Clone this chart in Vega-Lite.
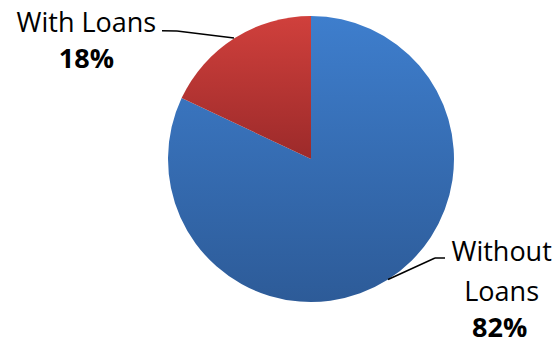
{
  "$schema": "https://vega.github.io/schema/vega-lite/v6.json",
  "width": 494,
  "height": 318,
  "autosize": {"type": "none"},
  "padding": {"left": 64, "top": 0, "right": 0, "bottom": 25},
  "background": "white",
  "config": {"view": {"stroke": null}, "text": {"font": "Open Sans", "fontSize": 27, "color": "#000000"}},
  "data": {"values": [
    {"cat": "Without Loans", "value": 82, "pct": "82%"},
    {"cat": "With Loans", "value": 18, "pct": "18%"}
  ]},
  "layer": [
    {
      "mark": {"type": "arc", "outerRadius": 143},
      "encoding": {
        "theta": {"field": "value", "type": "quantitative", "stack": true},
        "order": {"field": "value", "type": "quantitative", "sort": "descending"},
        "color": {
          "condition": {"test": "datum.cat === 'With Loans'", "value": {"gradient": "linear", "x1": 0, "y1": 0, "x2": 0, "y2": 1, "stops": [{"offset": 0, "color": "#d0403c"}, {"offset": 1, "color": "#9c2a2a"}]}},
          "value": {"gradient": "linear", "x1": 0, "y1": 0, "x2": 0, "y2": 1, "stops": [{"offset": 0, "color": "#3e7ecd"}, {"offset": 1, "color": "#2d5b98"}]}
        }
      }
    },
    {
      "mark": {"type": "text", "radius": 143, "align": "center", "baseline": "alphabetic", "dx": -148, "dy": -6},
      "encoding": {
        "theta": {"field": "value", "type": "quantitative", "stack": true},
        "order": {"field": "value", "type": "quantitative", "sort": "descending"},
        "text": {"condition": {"test": "datum.cat === 'With Loans'", "field": "cat"}, "value": ""}
      }
    },
    {
      "mark": {"type": "text", "radius": 143, "align": "center", "baseline": "alphabetic", "fontWeight": "bold", "dx": -148, "dy": 30},
      "encoding": {
        "theta": {"field": "value", "type": "quantitative", "stack": true},
        "order": {"field": "value", "type": "quantitative", "sort": "descending"},
        "text": {"condition": {"test": "datum.cat === 'With Loans'", "field": "pct"}, "value": ""}
      }
    },
    {
      "mark": {"type": "text", "radius": 143, "align": "center", "baseline": "alphabetic", "lineBreak": " ", "lineHeight": 40, "dx": 114, "dy": -19},
      "encoding": {
        "theta": {"field": "value", "type": "quantitative", "stack": true},
        "order": {"field": "value", "type": "quantitative", "sort": "descending"},
        "text": {"condition": {"test": "datum.cat === 'Without Loans'", "field": "cat"}, "value": ""}
      }
    },
    {
      "mark": {"type": "text", "radius": 143, "align": "center", "baseline": "alphabetic", "fontWeight": "bold", "dx": 112, "dy": 57},
      "encoding": {
        "theta": {"field": "value", "type": "quantitative", "stack": true},
        "order": {"field": "value", "type": "quantitative", "sort": "descending"},
        "text": {"condition": {"test": "datum.cat === 'Without Loans'", "field": "pct"}, "value": ""}
      }
    },
    {
      "data": {"values": [{}]},
      "mark": {"type": "rule", "color": "#000000", "strokeWidth": 1.5},
      "encoding": {"x": {"value": 98}, "y": {"value": 30.7}, "x2": {"value": 113}, "y2": {"value": 31}}
    },
    {
      "data": {"values": [{}]},
      "mark": {"type": "rule", "color": "#000000", "strokeWidth": 1.5},
      "encoding": {"x": {"value": 113}, "y": {"value": 31}, "x2": {"value": 170}, "y2": {"value": 38}}
    },
    {
      "data": {"values": [{}]},
      "mark": {"type": "rule", "color": "#000000", "strokeWidth": 1.5},
      "encoding": {"x": {"value": 324}, "y": {"value": 279.5}, "x2": {"value": 371}, "y2": {"value": 258}}
    },
    {
      "data": {"values": [{}]},
      "mark": {"type": "rule", "color": "#000000", "strokeWidth": 1.5},
      "encoding": {"x": {"value": 371}, "y": {"value": 258}, "x2": {"value": 381}, "y2": {"value": 258}}
    }
  ]
}
